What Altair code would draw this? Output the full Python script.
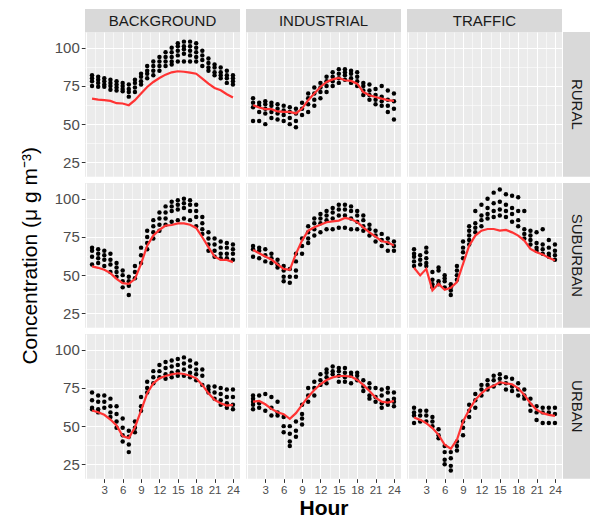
import altair as alt
import pandas as pd

HOURS = list(range(1, 25))
COLS = ["BACKGROUND", "INDUSTRIAL", "TRAFFIC"]
ROWS = ["RURAL", "SUBURBAN", "URBAN"]

# ---------------- mean lines (red) ----------------
MEAN_BG_RURAL = [66.7, 66.0, 65.7, 65.2, 63.7, 63.5, 62.4, 65.7, 70.0, 74.3, 77.6, 80.2,
                 82.4, 83.9, 84.6, 84.3, 83.7, 83.0, 79.8, 76.5, 73.7, 72.2, 69.6, 67.4]
MEAN_IND_RURAL = [62.4, 60.9, 59.8, 59.8, 58.3, 58.0, 58.0, 57.0, 60.2, 65.7, 70.0, 74.3,
                  77.6, 79.3, 80.2, 78.7, 78.3, 76.5, 71.0, 68.9, 67.8, 66.7, 65.7, 65.2]
MEAN_BG_SUB = [55.7, 54.8, 53.5, 51.3, 47.6, 44.8, 44.3, 47.6, 57.4, 69.3, 75.9, 79.6,
               82.4, 82.8, 83.9, 83.9, 83.0, 80.9, 74.8, 68.3, 62.2, 60.0, 60.0, 58.5]
MEAN_IND_SUB = [66.5, 64.3, 62.2, 60.2, 57.0, 54.1, 53.5, 63.9, 72.6, 79.1, 81.3, 83.0,
                84.6, 85.2, 85.7, 87.4, 86.7, 84.6, 81.3, 78.0, 75.2, 72.2, 71.5, 69.3]
MEAN_TR_SUB = [54.8, 49.8, 54.1, 40.0, 44.3, 40.4, 41.7, 45.4, 57.4, 69.3, 75.9, 79.1,
               80.2, 80.2, 79.1, 79.6, 78.0, 75.9, 72.6, 67.2, 65.0, 63.5, 61.3, 59.6]
MEAN_BG_URB = [60.2, 59.1, 57.4, 54.3, 50.4, 43.5, 42.2, 49.3, 60.2, 71.5, 78.0, 81.3,
               82.8, 83.9, 84.6, 84.1, 83.0, 81.3, 77.0, 71.5, 67.2, 65.0, 63.5, 63.9]
MEAN_IND_URB = [66.0, 66.5, 64.3, 61.3, 59.1, 57.8, 54.8, 58.5, 63.9, 69.3, 73.7, 77.4,
                80.2, 81.9, 82.8, 82.8, 82.4, 80.2, 77.0, 73.0, 68.7, 66.0, 65.4, 66.5]
MEAN_TR_URB = [55.7, 54.1, 52.0, 48.7, 44.3, 37.8, 35.2, 41.1, 53.0, 60.7, 67.2, 71.5,
               74.8, 76.5, 78.7, 78.0, 77.4, 74.8, 70.4, 65.0, 60.7, 58.5, 57.4, 56.7]

# ---------------- site points (black), one list per hour ----------------
PTS_BG_RURAL = [[82, 80, 78, 75], [81, 79, 77, 74.5], [80, 78, 76, 74.5], [79, 77, 75, 72.5],
                [78, 76, 74, 72], [77, 75, 73, 71.5], [76, 73, 71, 68], [79, 77, 74, 71],
                [83, 81, 78, 76], [88, 85, 83, 80], [91, 88, 85, 82], [94, 91, 88, 85],
                [97, 94, 91, 88], [100, 97, 94, 91, 89], [103, 101, 98, 95, 91], [104, 101, 99, 96, 91],
                [104, 101, 98, 95, 91], [103, 100, 97, 94, 91], [98, 95, 92, 88], [93, 90, 87, 85],
                [89, 87, 84, 82], [87, 84, 82, 80], [85, 82, 80, 77], [82, 80, 78, 76]]
PTS_IND_RURAL = [[67, 64, 61, 52], [64, 62, 58, 52], [65, 63, 60, 57, 50], [64, 62, 58, 54],
                 [63, 60, 57, 53], [62, 59, 56, 52], [61, 58, 54, 50], [60, 57, 52, 48],
                 [64, 60, 56], [70, 67, 63, 58], [74, 70, 66, 62], [77, 74, 71, 67],
                 [81, 78, 75, 71], [84, 81, 78, 75], [86, 83, 80, 77], [86, 84, 82, 79],
                 [85, 83, 80, 77], [84, 81, 78, 75], [77, 75, 72, 69], [76, 72, 69, 66],
                 [73, 69, 66, 63], [75, 68, 65, 62], [72, 66, 62, 58], [70, 65, 60, 53]]
PTS_BG_SUB = [[68, 66, 62, 57], [67, 64, 61, 58], [66, 63, 60, 56], [64, 60, 57, 52],
              [58, 55, 52, 49], [53, 50, 46, 42], [49, 46, 43, 37], [56, 52, 48],
              [68, 63, 58], [79, 75, 71, 67], [86, 82, 78, 74], [91, 87, 83, 79],
              [95, 91, 87, 83], [98, 95, 92, 85], [99, 96, 93, 86], [100, 97, 94, 87],
              [99, 96, 92, 86], [96, 92, 88, 82], [88, 84, 80, 77], [78, 74, 70, 66],
              [74, 70, 66, 62], [72, 68, 64, 61], [71, 68, 64, 61], [70, 67, 64, 60]]
PTS_IND_SUB = [[69, 67, 62], [68, 66, 61], [67, 63, 59], [64, 61, 58],
               [60, 57, 55], [56, 53, 49, 46], [54, 49, 45], [64, 59, 53, 49],
               [74, 69, 64], [82, 78, 74, 71], [87, 84, 80, 76], [90, 87, 84, 78],
               [92, 89, 86, 80], [94, 91, 87, 80], [96, 93, 89, 81], [96, 93, 89, 81],
               [95, 92, 87, 80], [92, 89, 85, 80], [89, 86, 82, 79], [83, 80, 76],
               [79, 76, 72], [77, 73, 69], [74, 71, 66], [72, 69, 66]]
PTS_TR_SUB = [[67, 64, 62, 59, 56], [63, 60, 57], [68, 65, 61, 58, 56], [52, 47, 44, 42],
              [55, 53, 46, 44], [50, 48, 46, 42], [44, 42, 40, 37], [56, 53, 50, 47],
              [72, 68, 65, 61], [82, 79, 76, 73, 70], [92, 84, 81, 78], [96, 89, 86, 82],
              [100, 94, 90, 87], [104, 97, 92, 88], [106, 98, 93, 89], [103, 96, 92, 88],
              [102, 94, 90, 85], [101, 92, 86, 82], [92, 80, 77, 74], [79, 76, 73, 70],
              [78, 71, 68, 66], [80, 70, 67, 64], [73, 68, 64, 62], [70, 66, 63, 60]]
PTS_BG_URB = [[72, 67, 62, 61], [70, 66, 61, 59], [70, 66, 62], [68, 63, 59, 56],
              [63, 58, 53, 49], [55, 49, 44, 40], [47, 43, 38, 33], [53, 49, 46],
              [69, 63, 60], [79, 75, 72], [86, 82, 78], [90, 86, 82],
              [92, 88, 84, 81], [93, 89, 85, 82], [94, 90, 86, 83], [95, 91, 87, 83],
              [93, 89, 85, 82], [91, 87, 84, 80], [87, 83, 77], [76, 74, 72],
              [76, 72, 68], [75, 71, 67, 64], [74, 69, 65, 62], [74, 69, 64, 61]]
PTS_IND_URB = [[70, 68, 66, 64, 61], [70, 65, 62], [71, 60], [69, 62, 57],
               [66, 59, 57], [56, 50, 46], [50, 45, 40, 37], [53, 47, 43],
               [64, 58, 55, 51], [75, 70, 66], [79, 75, 70], [84, 80, 77],
               [87, 85, 82, 78], [89, 86, 84], [88, 86, 83, 79], [88, 85, 82, 79],
               [85, 83, 78], [85, 83, 80], [80, 76, 73], [78, 75, 70, 68],
               [75, 69, 66], [74, 70, 65, 62], [75, 72, 67, 64], [72, 68, 66, 63]]
PTS_TR_URB = [[62, 59, 57, 52], [60, 57, 53], [60, 57, 53], [56, 53, 50],
              [48, 44, 42], [37, 33, 28, 25], [33, 29, 24, 21], [40, 37, 34],
              [53, 49, 44], [64, 60, 56], [71, 67, 62], [77, 74, 70],
              [80, 77, 74], [83, 80, 76], [84, 81, 78], [82, 78, 74],
              [81, 76, 73], [78, 74, 70], [74, 70, 68], [68, 64, 60],
              [63, 59, 54], [62, 59, 52], [62, 59, 52], [62, 58, 52]]

PANELS = {
    ("RURAL", "BACKGROUND"): (PTS_BG_RURAL, MEAN_BG_RURAL),
    ("RURAL", "INDUSTRIAL"): (PTS_IND_RURAL, MEAN_IND_RURAL),
    ("RURAL", "TRAFFIC"): None,
    ("SUBURBAN", "BACKGROUND"): (PTS_BG_SUB, MEAN_BG_SUB),
    ("SUBURBAN", "INDUSTRIAL"): (PTS_IND_SUB, MEAN_IND_SUB),
    ("SUBURBAN", "TRAFFIC"): (PTS_TR_SUB, MEAN_TR_SUB),
    ("URBAN", "BACKGROUND"): (PTS_BG_URB, MEAN_BG_URB),
    ("URBAN", "INDUSTRIAL"): (PTS_IND_URB, MEAN_IND_URB),
    ("URBAN", "TRAFFIC"): (PTS_TR_URB, MEAN_TR_URB),
}

W, H = 155, 144.7
GAP = 6
STRIP_H = 23             # visible height of top strips
STRIP_W = 27             # visible width of right strips
SH = STRIP_H - GAP       # layout cell height (band spills into the gap)
SW = STRIP_W - GAP + 1   # layout cell width (band spills into the gap, leaving 1px)
XDOM = [-0.15, 25.15]
YDOM = [15.6, 110.3]
XVALS = [i * 1.5 for i in range(17)]
YVALS = [25 + 12.5 * i for i in range(7)]
FONT = "Liberation Sans"
STRIP_FILL = "#D9D9D9"
BG = alt.ViewBackground(fill="#EBEBEB", stroke=None)
NOBG = alt.ViewBackground(fill=None, stroke=None)


def make_x_axis(show, title):
    kw = dict(values=XVALS, grid=True, gridColor="white",
              gridWidth={"condition": {"test": "datum.value % 3 === 0", "value": 1.1}, "value": 0.55},
              domain=False, labelFlush=False, labelOverlap=False)
    if show:
        kw.update(labels=True, ticks=True, tickColor="#333333", tickSize=3.7, tickWidth=1,
                  tickOpacity={"condition": {"test": "datum.value % 3 === 0 && datum.value > 0", "value": 1}, "value": 0},
                  labelExpr="datum.value % 3 === 0 && datum.value > 0 ? datum.label : ''",
                  labelColor="#4D4D4D", labelFontSize=11.5, labelFont=FONT, labelPadding=2)
    else:
        kw.update(labels=False, ticks=False)
    if title:
        kw.update(title=title, titleFont=FONT, titleFontSize=21, titleFontWeight="bold",
                  titleColor="black", titlePadding=2)
    else:
        kw.update(title=None)
    return alt.Axis(**kw)


def make_y_axis(show, title):
    kw = dict(values=YVALS, grid=True, gridColor="white",
              gridWidth={"condition": {"test": "datum.value % 25 === 0", "value": 1.1}, "value": 0.55},
              domain=False, labelOverlap=False)
    if show:
        kw.update(labels=True, ticks=True, tickColor="#333333", tickSize=3.7, tickWidth=1,
                  tickOpacity={"condition": {"test": "datum.value % 25 === 0", "value": 1}, "value": 0},
                  labelExpr="datum.value % 25 === 0 ? datum.label : ''",
                  labelColor="#4D4D4D", labelFontSize=15, labelFont=FONT, labelPadding=2)
    else:
        kw.update(labels=False, ticks=False)
    if title:
        kw.update(title=title, titleFont=FONT, titleFontSize=21, titleFontWeight="normal",
                  titleColor="black", titlePadding=14)
    else:
        kw.update(title=None)
    return alt.Axis(**kw)


def panel(ri, ci):
    row, col = ROWS[ri], COLS[ci]
    xa = make_x_axis(ri == 2, "Hour" if (ri == 2 and ci == 1) else None)
    ya = make_y_axis(ci == 0, "Concentration (\u03bc g m\u207b\u00b3)" if (ri == 1 and ci == 0) else None)
    x = alt.X("hour:Q", scale=alt.Scale(domain=XDOM, nice=False, zero=False), axis=xa)
    y = alt.Y("value:Q", scale=alt.Scale(domain=YDOM, nice=False, zero=False), axis=ya)
    entry = PANELS[(row, col)]
    if entry is None:
        empty = pd.DataFrame({"hour": pd.Series([], dtype=float), "value": pd.Series([], dtype=float)})
        return alt.Chart(empty).mark_circle(size=20, color="black").encode(x=x, y=y).properties(
            width=W, height=H, view=BG)
    pts, mean = entry
    pdf = pd.DataFrame([(h, v) for h, vals in zip(HOURS, pts) for v in vals], columns=["hour", "value"])
    ldf = pd.DataFrame({"hour": HOURS, "value": mean})
    c_pts = alt.Chart(pdf).mark_circle(size=20, color="black", opacity=1).encode(x=x, y=y)
    c_line = alt.Chart(ldf).mark_line(color="#FF3333", strokeWidth=2.2).encode(x=x, y=y)
    return alt.layer(c_pts, c_line).properties(width=W, height=H, view=BG)


def top_strip(label):
    base = alt.Chart(pd.DataFrame({"t": [label]}))
    # grey band reaches down through the row gap so it touches the panel below
    band = base.mark_rect(color=STRIP_FILL, clip=False).encode(
        x=alt.value(0), x2=alt.value(W), y=alt.value(0), y2=alt.value(STRIP_H))
    txt = base.mark_text(font=FONT, fontSize=15, color="#1A1A1A").encode(
        text="t:N", x=alt.value(W / 2), y=alt.value(STRIP_H / 2 + 0.5))
    return alt.layer(band, txt).properties(width=W, height=SH, view=NOBG)


def right_strip(label):
    base = alt.Chart(pd.DataFrame({"t": [label]}))
    x0 = -(GAP - 1)
    band = base.mark_rect(color=STRIP_FILL, clip=False).encode(
        x=alt.value(x0), x2=alt.value(SW), y=alt.value(0), y2=alt.value(H))
    txt = base.mark_text(font=FONT, fontSize=15, color="#1A1A1A", angle=90).encode(
        text="t:N", x=alt.value((x0 + SW) / 2), y=alt.value(H / 2))
    return alt.layer(band, txt).properties(width=SW, height=H, view=NOBG)


def spacer():
    return alt.Chart(pd.DataFrame({"t": [""]})).mark_text(opacity=0).encode(
        text="t:N").properties(width=SW, height=SH, view=NOBG)


cells = [top_strip(c) for c in COLS] + [spacer()]
for ri in range(3):
    cells += [panel(ri, ci) for ci in range(3)] + [right_strip(ROWS[ri])]

chart = alt.concat(*cells, columns=4, spacing=GAP, bounds="flush").properties(
    padding={"left": 19, "top": 9, "right": 5, "bottom": 5}
).configure(font=FONT, background="white")

chart.save("out.html", embed_options={"renderer": "svg", "actions": False})
